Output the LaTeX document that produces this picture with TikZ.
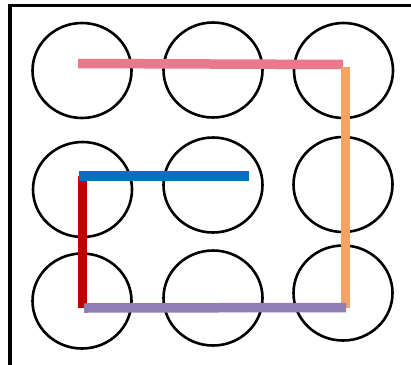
\documentclass[tikz,border=0pt]{standalone}
\usetikzlibrary{shapes.geometric}
\definecolor{pinkline}{RGB}{232,122,140}
\definecolor{orangeline}{RGB}{242,163,102}
\definecolor{purpleline}{RGB}{145,125,180}
\definecolor{redline}{RGB}{192,0,0}
\definecolor{blueline}{RGB}{0,112,192}
\tikzset{
  dot/.style={draw=black, line width=2.6pt, ellipse, minimum width=99pt, minimum height=95pt, inner sep=0pt},
  stroke/.style={line width=9.5pt, line cap=butt},
  frame/.style={draw=black, line width=3.3pt}
}
\begin{document}
\begin{tikzpicture}[x=1pt,y=-1pt]
\useasboundingbox (0,0) rectangle (411,364);
\fill[white] (0,0) rectangle (411,364);
% frame
\draw[frame] (10,366) -- (10,5.5) -- (413,5.5);
% circles
\node[dot] (c11) at (82,70.5) {};
\node[dot] (c12) at (213,70) {};
\node[dot] (c13) at (343.5,70.5) {};
\node[dot] (c21) at (82.5,189.5) {};
\node[dot] (c22) at (213,185) {};
\node[dot] (c23) at (343,184.5) {};
\node[dot] (c31) at (82,301) {};
\node[dot] (c32) at (213,298) {};
\node[dot] (c33) at (343,293) {};
% line end points
\coordinate (pA) at (78,63.5);
\coordinate (pB) at (343,64.5);
\coordinate (oA) at (345.5,67);
\coordinate (oB) at (345.5,308);
\coordinate (rA) at (82.5,175.5);
\coordinate (rB) at (82.5,307.7);
\coordinate (bA) at (79,176);
\coordinate (bB) at (249,176);
\coordinate (uA) at (84,308);
\coordinate (uB) at (346,307.5);
% strokes
\draw[stroke, pinkline] (pA) -- (pB);
\draw[stroke, orangeline] (oA) -- (oB);
\draw[stroke, redline] (rA) -- (rB);
\draw[stroke, blueline] (bA) -- (bB);
\draw[stroke, purpleline] (uA) -- (uB);
\end{tikzpicture}
\end{document}
